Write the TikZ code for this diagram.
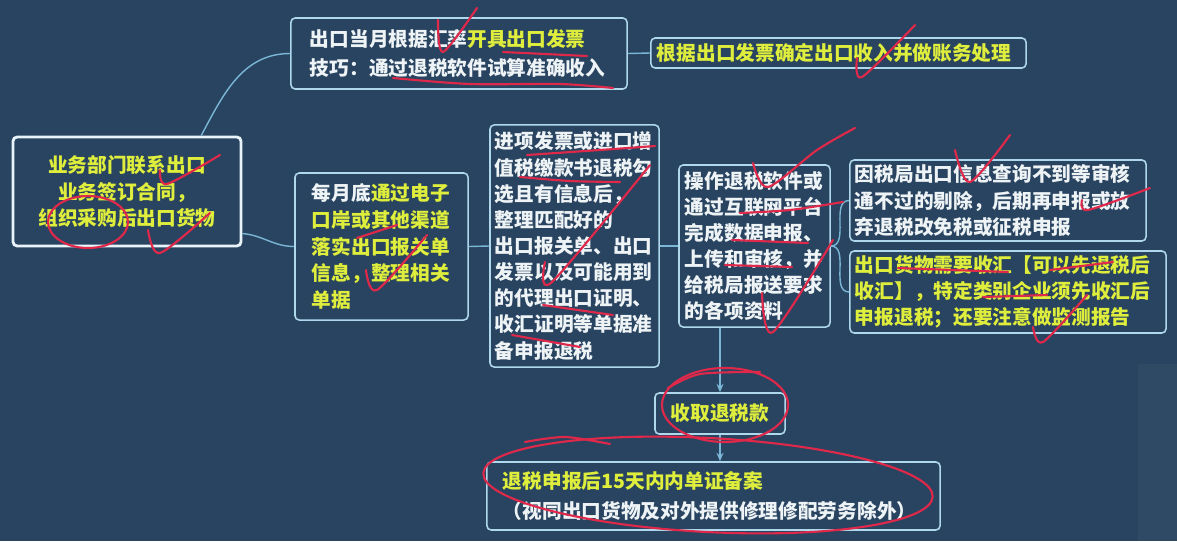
\documentclass[tikz,border=0pt]{standalone}
\usepackage{fontspec}
\newfontfamily\cjk{Noto Sans CJK SC}
\usetikzlibrary{positioning,arrows.meta}
\definecolor{bgc}{HTML}{294460}
\definecolor{patch}{HTML}{2E4A64}
\definecolor{boxline}{HTML}{B0D8EC}
\definecolor{mainline}{HTML}{E8F4FA}
\definecolor{linec}{HTML}{7AB6D6}
\definecolor{wtext}{HTML}{EEF3F6}
\definecolor{ytext}{HTML}{DFEE3C}
\definecolor{redc}{HTML}{E0284A}
\newcommand{\yel}[1]{\textcolor{ytext}{#1}}

\begin{document}
\begin{tikzpicture}[x=0.025cm,y=-0.025cm,
    box/.style={draw=boxline,line width=1.1pt,rounded corners=3pt,
      font=\cjk\bfseries\fontsize{14}{19}\selectfont,text=wtext,align=left,inner ysep=0pt},
    conn/.style={draw=linec,line width=1pt},
    arr/.style={conn,-{Stealth[length=6pt,width=5pt]}},
    redmark/.style={draw=redc,line width=1.5pt,line cap=round,line join=round}]
    % background
    \fill[bgc] (0,0) rectangle (1177,541);
    \useasboundingbox (0,0) rectangle (1177,541);
    \fill[patch] (1138,364) rectangle (1177,541);

    % boxes
    \node[box,draw=mainline,line width=2pt,align=center,text width=5.2cm,inner xsep=0.25cm,
      minimum height=2.725cm] (deal) at (127,191.5)
      {\yel{业务部门联系出口}\\\yel{业务签订合同，}\\\yel{组织采购后出口货物}};
    \node[box,font=\cjk\bfseries\fontsize{14}{21}\selectfont,text width=7.45cm,inner xsep=0.475cm,
      minimum height=1.775cm] (invoice) at (459,53.5)
      {出口当月根据汇率\yel{开具出口发票}\\技巧：通过退税软件试算准确收入};
    \node[box,text width=9.075cm,inner xsep=0.15cm,minimum height=0.75cm] (income) at (838.5,53)
      {\yel{根据出口发票确定出口收入并做账务处理}};
    \node[box,text width=3.475cm,inner xsep=0.425cm,minimum height=3.675cm] (customs) at (381.5,246.5)
      {每月底\yel{通过电子}\\\yel{口岸或其他渠道}\\\yel{落实出口报关单}\\\yel{信息，整理相关}\\\yel{单据}};
    \node[box,font=\cjk\bfseries\fontsize{14}{18.6}\selectfont,text width=3.975cm,inner xsep=0.125cm,
      minimum height=6.05cm] (docs) at (574.5,246)
      {进项发票或进口增\\值税缴款书退税勾\\选且有信息后，\\整理匹配好的\\出口报关单、出口\\发票以及可能用到\\的代理出口证明、\\收汇证明等单据准\\备申报退税};
    \node[box,font=\cjk\bfseries\fontsize{14}{18.6}\selectfont,text width=3.475cm,inner xsep=0.15cm,
      minimum height=4.05cm] (declare) at (754.5,246)
      {操作退税软件或\\通过互联网平台\\完成数据申报、\\上传和审核，并\\给税局报送要求\\的各项资料};
    \node[box,font=\cjk\bfseries\fontsize{14}{18.6}\selectfont,text width=7.15cm,inner xsep=0.125cm,
      minimum height=2.025cm] (reject) at (998,200.5)
      {因税局出口信息查询不到等审核\\通不过的剔除，后期再申报或放\\弃退税改免税或征税申报};
    \node[box,font=\cjk\bfseries\fontsize{14}{18.6}\selectfont,text width=7.65cm,inner xsep=0.125cm,
      minimum height=2.05cm] (forex) at (1008,292)
      {\yel{出口货物需要收汇【可以先退税后}\\\yel{收汇】，特定类别企业须先收汇后}\\\yel{申报退税；还要注意做监测报告}};
    \node[box,align=center,minimum width=3.25cm,minimum height=1.025cm,inner sep=0pt] (refund) at (720,413.5)
      {\yel{收取退税款}};
    \node[box,font=\cjk\bfseries\fontsize{14}{21}\selectfont,text width=10.525cm,inner xsep=0.4cm,
      minimum height=1.7cm] (filing) at (713.5,496)
      {\yel{退税申报后15天内内单证备案}\\（视同出口货物及对外提供修理修配劳务除外）};

    % connectors
    \draw[conn] (deal.37) to[out=62,in=180] (invoice.west);
    \draw[conn] (deal.-20) to[out=-5,in=180] (customs.west);
    \draw[conn] (invoice.east) -- (income.west);
    \draw[conn] (customs.east) -- (docs.west);
    \draw[conn] (docs.east) -- (declare.west);
    \draw[conn] (declare.east) to[out=0,in=180] (reject.west);
    \draw[conn] (declare.east) to[out=0,in=180] (forex.west);
    \draw[arr] (refund.north |- declare.south) -- (refund.north);
    \draw[arr] (refund.south) -- (refund.south |- filing.north);

    % red marks
    \draw[redmark] plot[smooth] coordinates {(160,170) (167,184) (220,155)};
    \draw[redmark] plot[smooth] coordinates {(148,230) (160,253) (210,213)};
    \draw[redmark] (88,222) ellipse [x radius=40,y radius=26];
    \draw[redmark] plot[smooth] coordinates {(438,20) (443,52) (477,8)};
    \draw[redmark] plot[smooth] coordinates {(503,52) (545,54) (587,56)};
    \draw[redmark] plot[smooth] coordinates {(393,78) (470,84) (560,84) (613,88)};
    \draw[redmark] plot[smooth] coordinates {(857,58) (862,77) (915,25)};
    \draw[redmark] (357,238) -- (397,225);
    \draw[redmark] plot[smooth] coordinates {(366,270) (377,290) (427,235)};
    \draw[redmark] plot[smooth] coordinates {(527,155) (600,150) (655,146)};
    \draw[redmark] plot[smooth] coordinates {(520,177) (570,181) (620,182)};
    \draw[redmark] plot[smooth] coordinates {(545,262) (552,282) (650,165)};
    \draw[redmark] (543,305) -- (613,315);
    \draw[redmark] (512,335) -- (580,347);
    \draw[redmark] plot[smooth] coordinates {(753,163) (768,187) (817,150) (855,128)};
    \draw[redmark] plot[smooth] coordinates {(740,213) (790,210) (843,202)};
    \draw[redmark] (732,240) -- (808,243);
    \draw[redmark] (725,265) -- (792,267);
    \draw[redmark] plot[smooth] coordinates {(762,293) (773,332) (833,240)};
    \draw[redmark] plot[smooth] coordinates {(955,150) (970,182) (1010,135)};
    \draw[redmark] plot[smooth] coordinates {(1082,200) (1088,210) (1150,188)};
    \draw[redmark] (898,268) -- (1008,272);
    \draw[redmark] (1050,270) -- (1113,262);
    \draw[redmark] (983,297) -- (1047,295);
    \draw[redmark] plot[smooth] coordinates {(1033,327) (1043,342) (1087,295)};
    \draw[redmark] (725,405) ellipse [x radius=63,y radius=37];
    \draw[redmark] plot[smooth] coordinates {(668,388) (700,374) (760,372)};
    \draw[redmark,rotate around={-3:(708,485)}] (708,485) ellipse [x radius=225,y radius=47];
    \draw[redmark] plot[smooth] coordinates {(525,442) (565,437) (610,444)};
\end{tikzpicture}
\end{document}
